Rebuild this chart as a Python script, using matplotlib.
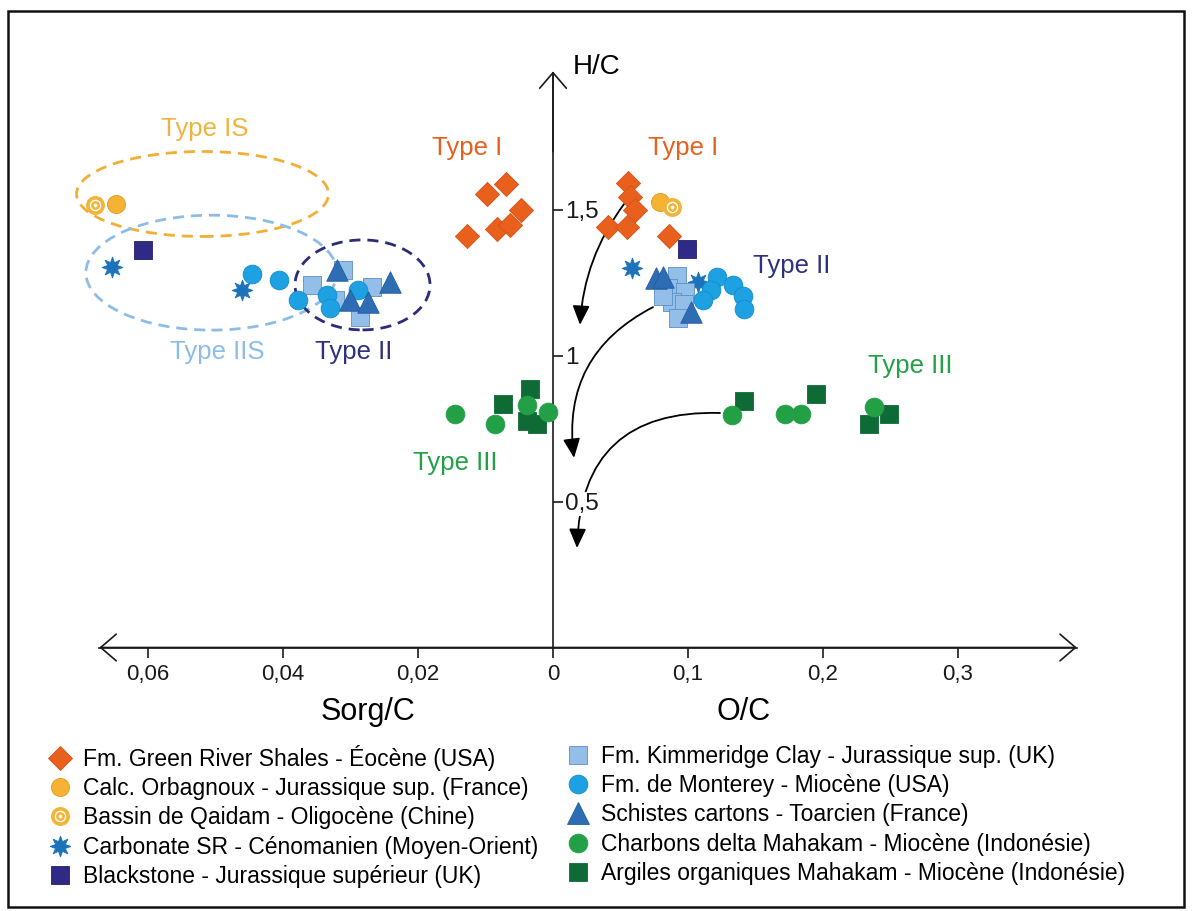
import matplotlib.pyplot as plt
from matplotlib.lines import Line2D
from matplotlib.patches import Ellipse, FancyArrowPatch, Rectangle

plt.rcParams['font.family'] = ['Liberation Sans', 'DejaVu Sans']

# the left half is Sorg/C, stretched x5 so that 0,02 sits where 0,1 of O/C sits
SORG_STRETCH = 5.0

# ---- values: left = (Sorg/C, H/C), right = (O/C, H/C) ----
green_river_sorg = [0.0098, 0.0070, 0.0048, 0.0128, 0.0083, 0.0064]
green_river_sorg_hc = [1.555, 1.589, 1.500, 1.411, 1.435, 1.449]
green_river_oc = [0.0556, 0.0570, 0.0607, 0.0407, 0.0548, 0.0859]
green_river_oc_hc = [1.592, 1.545, 1.500, 1.443, 1.443, 1.411]

orbagnoux_sorg = [0.0647]
orbagnoux_sorg_hc = [1.520]
orbagnoux_oc = [0.0793]
orbagnoux_oc_hc = [1.527]

qaidam_sorg = [0.0679]
qaidam_sorg_hc = [1.517]
qaidam_oc = [0.0881]
qaidam_oc_hc = [1.510]

carbonate_sorg = [0.0653, 0.0461]
carbonate_sorg_hc = [1.305, 1.226]
carbonate_oc = [0.0585, 0.1074]
carbonate_oc_hc = [1.301, 1.253]

blackstone_sorg = [0.0607]
blackstone_sorg_hc = [1.363]
blackstone_oc = [0.0993]
blackstone_oc_hc = [1.366]

kimmeridge_sorg = [0.0357, 0.0311, 0.0268, 0.0286, 0.0323]
kimmeridge_sorg_hc = [1.243, 1.294, 1.236, 1.133, 1.191]
kimmeridge_oc = [0.0919, 0.0852, 0.0978, 0.0881, 0.0970, 0.0926, 0.0815]
kimmeridge_oc_hc = [1.274, 1.233, 1.219, 1.185, 1.178, 1.130, 1.205]

monterey_sorg = [0.0446, 0.0406, 0.0378, 0.0335, 0.0330, 0.0289]
monterey_sorg_hc = [1.280, 1.260, 1.191, 1.208, 1.164, 1.226]
monterey_oc = [0.1215, 0.1333, 0.1407, 0.1415, 0.1170, 0.1111]
monterey_oc_hc = [1.270, 1.243, 1.205, 1.160, 1.226, 1.191]

schistes_sorg = [0.0320, 0.0241, 0.0301, 0.0274]
schistes_sorg_hc = [1.294, 1.253, 1.191, 1.185]
schistes_oc = [0.0763, 0.0815, 0.1022]
schistes_oc_hc = [1.267, 1.270, 1.150]

charbons_sorg = [0.0145, 0.0086, 0.0039, 0.0008]
charbons_sorg_hc = [0.802, 0.766, 0.833, 0.809]
charbons_oc = [0.1324, 0.1721, 0.1840, 0.2375]
charbons_oc_hc = [0.796, 0.799, 0.799, 0.824]

argiles_sorg = [0.0074, 0.0034, 0.0039, 0.0024]
argiles_sorg_hc = [0.836, 0.885, 0.775, 0.766]
argiles_oc = [0.1412, 0.1946, 0.2489, 0.2343]
argiles_oc_hc = [0.845, 0.870, 0.799, 0.765]

sorg_ticks = [0.06, 0.04, 0.02]
oc_ticks = [0, 0.1, 0.2, 0.3]
hc_ticks = [0.5, 1, 1.5]

labels = [
    "Fm. Green River Shales - Éocène (USA)",
    "Calc. Orbagnoux - Jurassique sup. (France)",
    "Bassin de Qaidam - Oligocène (Chine)",
    "Carbonate SR - Cénomanien (Moyen-Orient)",
    "Blackstone - Jurassique supérieur (UK)",
    "Fm. Kimmeridge Clay - Jurassique sup. (UK)",
    "Fm. de Monterey - Miocène (USA)",
    "Schistes cartons - Toarcien (France)",
    "Charbons delta Mahakam - Miocène (Indonésie)",
    "Argiles organiques Mahakam - Miocène (Indonésie)",
]

ORANGE = "#E8601C"
GOLD = "#F5B335"
GOLD_EDGE = "#E09A20"
STAR_BLUE = "#1C73B9"
NAVY = "#2E2A85"
LIGHT_BLUE = "#92BEE8"
SKY = "#1DA1E2"
MID_BLUE = "#2E6CB4"
GREEN = "#23A046"
DARK_GREEN = "#0F6B36"
STAR = (8, 1, 0)

# label, sorg, hc, oc, hc, marker style
series = [
    (labels[0], green_river_sorg, green_river_sorg_hc, green_river_oc, green_river_oc_hc,
     dict(marker="D", ms=12.3, fc=ORANGE, ec="#D4521A")),
    (labels[1], orbagnoux_sorg, orbagnoux_sorg_hc, orbagnoux_oc, orbagnoux_oc_hc,
     dict(marker="o", ms=13, fc=GOLD, ec=GOLD_EDGE)),
    (labels[3], carbonate_sorg, carbonate_sorg_hc, carbonate_oc, carbonate_oc_hc,
     dict(marker=STAR, ms=15, fc=STAR_BLUE, ec=STAR_BLUE)),
    (labels[4], blackstone_sorg, blackstone_sorg_hc, blackstone_oc, blackstone_oc_hc,
     dict(marker="s", ms=12.5, fc=NAVY, ec="#241F6B")),
    (labels[5], kimmeridge_sorg, kimmeridge_sorg_hc, kimmeridge_oc, kimmeridge_oc_hc,
     dict(marker="s", ms=13, fc=LIGHT_BLUE, ec="#5A8FCB")),
    (labels[6], monterey_sorg, monterey_sorg_hc, monterey_oc, monterey_oc_hc,
     dict(marker="o", ms=13.5, fc=SKY, ec="#168CC9")),
    (labels[7], schistes_sorg, schistes_sorg_hc, schistes_oc, schistes_oc_hc,
     dict(marker="^", ms=15.5, fc=MID_BLUE, ec="#245EA3")),
    (labels[9], argiles_sorg, argiles_sorg_hc, argiles_oc, argiles_oc_hc,
     dict(marker="s", ms=13, fc=DARK_GREEN, ec=DARK_GREEN)),
    (labels[8], charbons_sorg, charbons_sorg_hc, charbons_oc, charbons_oc_hc,
     dict(marker="o", ms=13.5, fc=GREEN, ec=GREEN)),
]


def left(values):
    # Sorg/C values go to the left of the H/C axis
    return [-SORG_STRETCH * v for v in values]


def fmt(v):
    return ("%g" % v).replace(".", ",")


fig = plt.figure(figsize=(11.92, 9.11), dpi=100)
ax = fig.add_axes([0, 0, 1, 1])
ax.set_xlim(-553 / 1350, 639 / 1350)
ax.set_ylim(-263.5 / 291.7, 647.5 / 291.7)

# ---- axes drawn as a cross ----
for side in ["top", "right"]:
    ax.spines[side].set_visible(False)
ax.spines["left"].set_position(("data", 0))
ax.spines["bottom"].set_position(("data", 0))
ax.spines["left"].set_bounds(0, 1.97)
ax.spines["bottom"].set_bounds(-0.336, 0.388)
for side in ["left", "bottom"]:
    ax.spines[side].set_linewidth(1.2)
    ax.spines[side].set_color("#1a1a1a")

ax.annotate("", xy=(-0.336, 0), xytext=(0.388, 0),
            arrowprops=dict(arrowstyle="<->,head_length=0.7,head_width=0.6",
                            lw=1.2, color="#1a1a1a", shrinkA=0, shrinkB=0,
                            mutation_scale=16))
ax.annotate("", xy=(0, 1.975), xytext=(0, 1.7),
            arrowprops=dict(arrowstyle="->,head_length=0.7,head_width=0.6",
                            lw=1.2, color="#1a1a1a", shrinkA=0, shrinkB=0,
                            mutation_scale=16))

ax.set_xticks(left(sorg_ticks) + oc_ticks,
              [fmt(v) for v in sorg_ticks] + [fmt(v) for v in oc_ticks])
ax.set_yticks(hc_ticks, [fmt(v) for v in hc_ticks])
ax.tick_params(axis="x", direction="out", length=7, width=1.2, pad=5,
               labelsize=16, colors="#1a1a1a")
ax.tick_params(axis="y", direction="in", length=7, width=1.2, pad=-9,
               labelsize=17.5, colors="#1a1a1a")
for lbl in ax.get_yticklabels():
    lbl.set_horizontalalignment("left")
    lbl.set_bbox(dict(fc="white", ec="none", pad=0.5))

ax.text(0.0145, 1.99, "H/C", fontsize=20, ha="left", va="center")
ax.text(-0.137, -0.221, "Sorg/C", fontsize=22, ha="center", va="center")
ax.text(0.1415, -0.221, "O/C", fontsize=22, ha="center", va="center")

# ---- dashed envelopes on the Sorg/C side ----
envelopes = [
    ((-0.2596, 1.5547), 0.1867, 0.2914, "#F0B035"),
    ((-0.2530, 1.285), 0.186, 0.394, "#8DBDE6"),
    ((-0.1411, 1.243), 0.100, 0.3085, "#2B2D7A"),
]
for center, w, h, col in envelopes:
    ax.add_patch(Ellipse(center, w, h, fill=False, ec=col, lw=2.0,
                         ls=(0, (4, 2.5)), zorder=1))

# ---- evolution arrows ----
arrows = [
    ((0.0526, 1.520), (0.0200, 1.106), 0.15),
    ((0.0741, 1.167), (0.0156, 0.650), 0.35),
    ((0.1237, 0.804), (0.0178, 0.341), 0.5),
]
for start, end, rad in arrows:
    ax.add_patch(FancyArrowPatch(start, end, connectionstyle="arc3,rad=%s" % rad,
                                 arrowstyle="-|>,head_length=0.9,head_width=0.4",
                                 mutation_scale=13, lw=1.3, color="black",
                                 shrinkA=0, shrinkB=0, zorder=1))

# ---- points ----
for name, sx, sy, ox, oy, st in series:
    for xs, ys in [(left(sx), sy), (ox, oy)]:
        ax.scatter(xs, ys, marker=st["marker"], s=st["ms"] ** 2, c=st["fc"],
                   edgecolors=st["ec"], linewidths=0.6, zorder=3)

# Qaidam: orange bullseye
for xs, ys in [(left(qaidam_sorg), qaidam_sorg_hc), (qaidam_oc, qaidam_oc_hc)]:
    ax.scatter(xs, ys, marker="o", s=11 ** 2, c="white", edgecolors=GOLD,
               linewidths=2.6, zorder=3)
    ax.scatter(xs, ys, marker="o", s=4.5 ** 2, c="white", edgecolors=GOLD,
               linewidths=1.8, zorder=3)

# ---- type labels ----
type_labels = [
    (left([0.0516])[0], 1.778, "Type IS", "#F0B340"),
    (left([0.0127])[0], 1.712, "Type I", ORANGE),
    (0.0963, 1.712, "Type I", ORANGE),
    (0.177, 1.308, "Type II", "#2E3080"),
    (left([0.0498])[0], 1.013, "Type IIS", "#8DBDE6"),
    (left([0.0295])[0], 1.013, "Type II", "#2E3080"),
    (left([0.0145])[0], 0.6325, "Type III", GREEN),
    (0.2644, 0.965, "Type III", GREEN),
]
for x, y, txt, col in type_labels:
    ax.text(x, y, txt, color=col, fontsize=18.5, ha="center", va="center")

# ---- legend (two columns of five) ----
by_label = {s[0]: s[5] for s in series}
handles = []
for lab in labels:
    if lab == labels[2]:
        h = (Line2D([], [], ls="none", marker="o", ms=11, mfc="white", mec=GOLD, mew=2.6),
             Line2D([], [], ls="none", marker="o", ms=4.5, mfc="white", mec=GOLD, mew=1.8))
    else:
        st = by_label[lab]
        h = Line2D([], [], ls="none", marker=st["marker"], ms=st["ms"],
                   mfc=st["fc"], mec=st["ec"], mew=0.6)
    handles.append(h)

for i, x0 in enumerate([46 / 1192, 564 / 1192]):
    fig.legend(handles[5 * i:5 * i + 5], labels[5 * i:5 * i + 5],
               loc="upper left", bbox_to_anchor=(x0, 1 - 745 / 911),
               frameon=False, fontsize=16.5, handlelength=1.25, handletextpad=0.38,
               labelspacing=0.27, borderpad=0, borderaxespad=0)

# outer frame
fig.patches.append(Rectangle((8 / 1192, 1 - 907 / 911), 1176 / 1192, 896 / 911,
                             transform=fig.transFigure, fill=False, ec="#111111",
                             lw=1.8))

fig.savefig("out.png", dpi=100)
